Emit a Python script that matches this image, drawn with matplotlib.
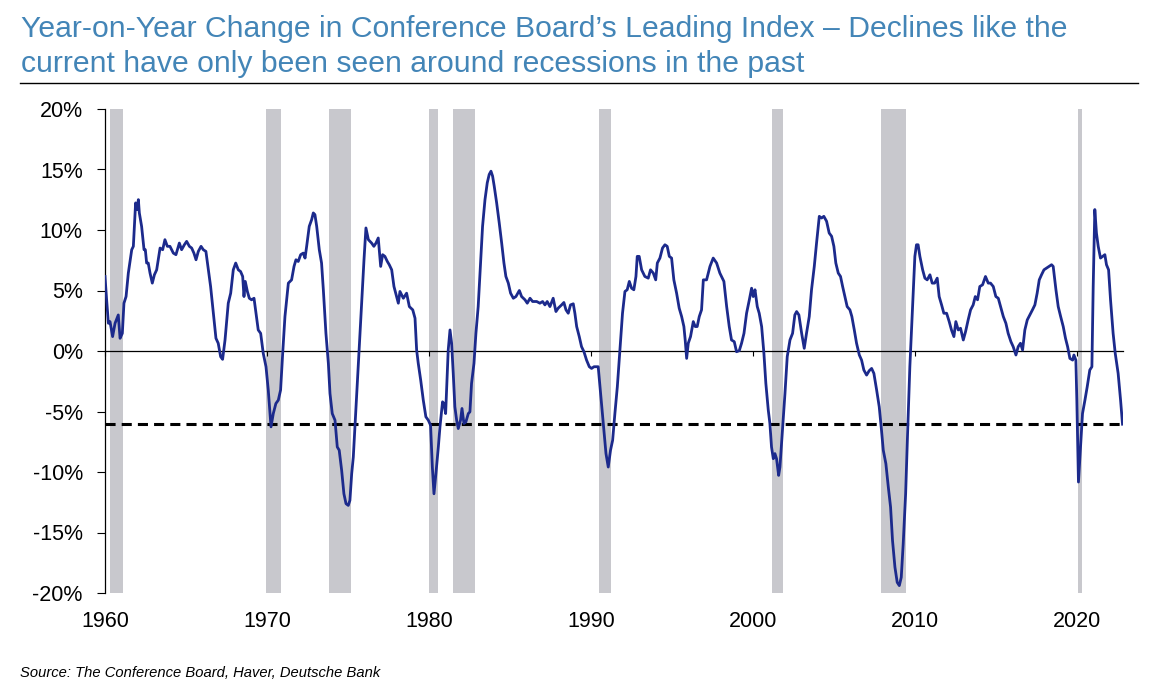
import numpy as np
import matplotlib
matplotlib.use("Agg")
import matplotlib.pyplot as plt
from matplotlib.lines import Line2D

plt.rcParams['font.family'] = ['Liberation Sans', 'DejaVu Sans']

# Conference Board LEI, year-on-year % change
lei_year = [
    1960.00, 1960.10, 1960.21, 1960.31, 1960.47, 1960.62, 1960.82, 1960.93, 1961.07, 1961.17,
    1961.30, 1961.44, 1961.65, 1961.75, 1961.89, 1961.98, 1962.06, 1962.12, 1962.26, 1962.41,
    1962.49, 1962.57, 1962.67, 1962.78, 1962.92, 1963.05, 1963.19, 1963.29, 1963.40, 1963.56,
    1963.70, 1963.85, 1964.01, 1964.22, 1964.38, 1964.59, 1964.73, 1964.90, 1965.04, 1965.21,
    1965.35, 1965.49, 1965.62, 1965.76, 1965.93, 1966.07, 1966.23, 1966.38, 1966.52, 1966.69,
    1966.85, 1966.99, 1967.14, 1967.26, 1967.41, 1967.61, 1967.76, 1967.92, 1968.07, 1968.23,
    1968.37, 1968.50, 1968.58, 1968.66, 1968.79, 1968.91, 1969.05, 1969.20, 1969.32, 1969.46,
    1969.61, 1969.77, 1969.94, 1970.08, 1970.25, 1970.39, 1970.55, 1970.70, 1970.84, 1970.97,
    1971.11, 1971.32, 1971.52, 1971.67, 1971.79, 1971.93, 1972.08, 1972.24, 1972.35, 1972.45,
    1972.61, 1972.76, 1972.86, 1972.96, 1973.07, 1973.23, 1973.37, 1973.48, 1973.64, 1973.79,
    1973.89, 1974.03, 1974.20, 1974.34, 1974.46, 1974.61, 1974.75, 1974.88, 1975.02, 1975.12,
    1975.23, 1975.33, 1975.43, 1975.54, 1975.68, 1975.84, 1975.99, 1976.11, 1976.26, 1976.46,
    1976.60, 1976.73, 1976.87, 1977.02, 1977.14, 1977.28, 1977.43, 1977.55, 1977.70, 1977.84,
    1978.00, 1978.11,
    1978.21, 1978.42, 1978.62, 1978.79, 1979.00, 1979.14, 1979.24, 1979.34, 1979.49, 1979.65,
    1979.81, 1979.96, 1980.10, 1980.21, 1980.31, 1980.43, 1980.58, 1980.68, 1980.84, 1980.93,
    1981.03, 1981.09, 1981.19, 1981.30, 1981.40, 1981.50, 1981.60, 1981.71, 1981.81, 1981.95,
    1982.04, 1982.16, 1982.28, 1982.43, 1982.53, 1982.63, 1982.78, 1982.90, 1983.04, 1983.15,
    1983.31, 1983.46, 1983.60, 1983.72, 1983.83, 1983.93, 1984.03, 1984.18, 1984.34, 1984.49,
    1984.63, 1984.75, 1984.90, 1985.04, 1985.21, 1985.37, 1985.58, 1985.72, 1985.93, 1986.07,
    1986.24, 1986.40, 1986.65, 1986.85, 1987.02, 1987.16, 1987.30, 1987.47, 1987.67, 1987.84,
    1987.98, 1988.19, 1988.33, 1988.46, 1988.60, 1988.74, 1988.91, 1989.01, 1989.12, 1989.28,
    1989.42, 1989.57, 1989.73, 1989.90, 1990.04, 1990.19, 1990.35, 1990.45, 1990.56, 1990.70,
    1990.82, 1990.93, 1991.07, 1991.21, 1991.34, 1991.48, 1991.63, 1991.79, 1991.95, 1992.10,
    1992.24, 1992.37, 1992.51, 1992.65, 1992.78, 1992.86, 1992.98, 1993.13, 1993.33, 1993.54,
    1993.68, 1993.85, 1994.00, 1994.10, 1994.26, 1994.42, 1994.57, 1994.71, 1994.84, 1994.98,
    1995.12, 1995.29, 1995.45, 1995.60, 1995.74, 1995.82, 1995.91, 1996.01, 1996.15, 1996.32,
    1996.44, 1996.56, 1996.69, 1996.83, 1996.94,
    1997.14, 1997.35, 1997.55, 1997.76, 1997.96, 1998.21, 1998.38, 1998.54, 1998.68, 1998.85,
    1998.99, 1999.16, 1999.30, 1999.45, 1999.61, 1999.78, 1999.92, 2000.02, 2000.13, 2000.27,
    2000.39, 2000.54, 2000.68, 2000.80, 2000.95, 2001.05, 2001.15, 2001.26, 2001.36, 2001.46,
    2001.59, 2001.67, 2001.77, 2001.87, 2001.98, 2002.12, 2002.29, 2002.45, 2002.59, 2002.70,
    2002.84, 2003.01, 2003.17, 2003.31, 2003.48, 2003.62, 2003.79, 2003.93, 2004.10, 2004.24,
    2004.38, 2004.55, 2004.71, 2004.86, 2005.00, 2005.12, 2005.27, 2005.41, 2005.54, 2005.68,
    2005.82, 2005.99, 2006.11, 2006.26, 2006.40, 2006.57, 2006.71, 2006.85, 2007.02, 2007.18,
    2007.33, 2007.47, 2007.64, 2007.80, 2007.94, 2008.05, 2008.21, 2008.36, 2008.50, 2008.62,
    2008.77, 2008.91, 2009.04, 2009.16, 2009.28, 2009.43, 2009.55, 2009.69, 2009.86, 2010.00,
    2010.10, 2010.20, 2010.31, 2010.48, 2010.62, 2010.76, 2010.93, 2011.07, 2011.22, 2011.38,
    2011.50, 2011.65, 2011.79, 2011.96, 2012.12, 2012.26, 2012.41, 2012.53, 2012.68, 2012.82,
    2012.99, 2013.13, 2013.29, 2013.44, 2013.60, 2013.73, 2013.87, 2014.01, 2014.18, 2014.36,
    2014.53, 2014.67, 2014.84, 2015.00, 2015.15, 2015.29, 2015.46, 2015.62, 2015.76, 2015.93,
    2016.07, 2016.24, 2016.38, 2016.52, 2016.65, 2016.79, 2016.94, 2017.10, 2017.26, 2017.41,
    2017.55, 2017.68, 2017.82, 2017.97, 2018.13, 2018.29, 2018.44, 2018.54, 2018.71, 2018.85,
    2019.00, 2019.16, 2019.30, 2019.43, 2019.57, 2019.74, 2019.82, 2019.94, 2020.00, 2020.10,
    2020.23, 2020.35, 2020.50, 2020.64, 2020.80, 2020.93, 2021.01, 2021.11, 2021.21, 2021.32,
    2021.46, 2021.59, 2021.73, 2021.83, 2021.96, 2022.08, 2022.24, 2022.37, 2022.55, 2022.70,
    2022.82,
]
lei_yoy = [
    6.16, 4.23, 2.29, 2.43, 1.19, 2.29, 2.98, 1.05, 1.46, 3.95,
    4.50, 6.44, 8.37, 8.65, 12.24, 11.69, 12.51, 11.41, 10.30, 8.37,
    8.37, 7.27, 7.27, 6.44, 5.61, 6.30, 6.71, 7.54, 8.51, 8.37,
    9.20, 8.65, 8.65, 8.09, 7.96, 8.92, 8.37, 8.78, 9.06, 8.65,
    8.51, 8.09, 7.54, 8.23, 8.65, 8.37, 8.23, 6.71, 5.33, 3.12,
    1.05, 0.64, -0.47, -0.69, 0.91, 3.95, 4.78, 6.71, 7.27, 6.71,
    6.57, 6.16, 4.50, 5.75, 4.92, 4.36, 4.23, 4.36, 3.12, 1.74,
    1.46, -0.19, -1.30, -3.23, -6.27, -5.17, -4.34, -4.06, -3.23, -0.19,
    2.85, 5.61, 5.88, 6.99, 7.54, 7.40, 7.96, 8.09, 7.68, 8.65,
    10.30, 10.86, 11.41, 11.27, 10.30, 8.37, 7.27, 5.06, 1.46, -1.02,
    -3.51, -5.17, -5.72, -7.93, -8.20, -9.86, -11.80, -12.62, -12.76, -12.35,
    -10.14, -8.76, -6.27, -3.51, -0.19, 3.95, 7.54, 10.17, 9.20, 8.92,
    8.65, 8.92, 9.34, 6.99, 7.96, 7.82, 7.40, 7.13, 6.71, 5.33,
    4.50, 3.95,
    4.92, 4.36, 4.78, 3.67, 3.40, 2.71, 0.08, -1.02, -2.40, -4.06,
    -5.44, -5.72, -6.13, -9.59, -11.80, -10.14, -7.93, -6.27, -4.20, -4.34,
    -5.17, -3.23, 0.08, 1.74, 0.64, -1.85, -4.61, -5.72, -6.41, -5.72,
    -4.75, -5.99, -5.86, -5.17, -5.03, -2.68, -1.02, 1.46, 3.67, 6.44,
    10.30, 12.51, 13.90, 14.59, 14.86, 14.45, 13.62, 12.24, 10.58, 8.92,
    7.27, 6.16, 5.61, 4.78, 4.36, 4.50, 5.00, 4.50, 4.23, 3.95,
    4.36, 4.09, 4.09, 3.95, 4.09, 3.81, 4.09, 3.67, 4.36, 3.26,
    3.54, 3.81, 4.01, 3.40, 3.12, 3.81, 3.90, 3.12, 2.02, 1.19,
    0.36, -0.06, -0.75, -1.30, -1.44, -1.30, -1.30, -1.30, -2.96, -5.17,
    -6.82, -8.48, -9.59, -8.20, -7.38, -5.17, -2.96, 0.08, 3.12, 4.92,
    5.06, 5.75, 5.19, 5.06, 6.16, 7.82, 7.82, 6.71, 6.16, 6.02,
    6.71, 6.44, 5.88, 7.27, 7.68, 8.51, 8.78, 8.65, 7.82, 7.68,
    5.88, 4.78, 3.54, 2.85, 2.02, 0.91, -0.61, 0.64, 1.19, 2.43,
    2.02, 2.02, 2.85, 3.40, 5.88,
    5.88, 6.99, 7.68, 7.27, 6.44, 5.75, 3.67, 2.02, 0.91, 0.77,
    -0.06, 0.03, 0.64, 1.46, 3.12, 4.23, 5.19, 4.50, 5.06, 3.67,
    3.12, 2.02, -0.19, -2.68, -4.89, -5.99, -7.93, -8.90, -8.48, -8.90,
    -10.28, -9.59, -7.65, -5.72, -3.51, -0.47, 0.91, 1.46, 2.98, 3.26,
    2.98, 1.46, 0.22, 1.46, 2.85, 5.06, 6.99, 8.92, 11.13, 10.99,
    11.13, 10.72, 9.75, 9.48, 8.65, 7.27, 6.44, 6.16, 5.33, 4.50,
    3.67, 3.40, 2.85, 1.74, 0.64, -0.33, -0.75, -1.57, -1.99, -1.63,
    -1.44, -1.85, -3.23, -4.61, -6.55, -8.20, -9.31, -11.24, -12.90, -15.66,
    -17.87, -19.12, -19.39, -18.70, -15.94, -11.80, -6.82, -1.30, 3.67, 7.82,
    8.78, 8.78, 7.82, 6.71, 6.02, 5.88, 6.30, 5.61, 5.61, 6.02,
    4.50, 3.81, 3.12, 3.12, 2.43, 1.74, 1.19, 2.43, 1.74, 1.88,
    0.91, 1.60, 2.57, 3.40, 3.81, 4.50, 4.23, 5.33, 5.47, 6.16,
    5.61, 5.61, 5.33, 4.50, 4.36, 3.67, 2.85, 2.29, 1.46, 0.77,
    0.36, -0.33, 0.36, 0.64, 0.08, 1.74, 2.57, 2.98, 3.40, 3.81,
    4.78, 5.88, 6.30, 6.71, 6.85, 6.99, 7.13, 6.99, 5.06, 3.67,
    2.85, 2.02, 1.05, 0.36, -0.61, -0.75, -0.33, -0.75, -4.06, -10.83,
    -7.93, -5.17, -4.06, -2.96, -1.57, -1.30, 5.33, 11.69, 9.75, 8.65,
    7.68, 7.82, 7.96, 7.13, 6.71, 4.23, 1.46, -0.19, -1.85, -4.06,
    -6.05,
]

# NBER recessions (start, end) in decimal years
rec_start = [1960.29, 1969.92, 1973.83, 1980.00, 1981.50, 1990.50, 2001.17, 2007.92, 2020.08]
rec_end = [1961.12, 1970.87, 1975.21, 1980.54, 1982.87, 1991.21, 2001.87, 2009.46, 2020.29]

threshold = -6
x_ticks = [1960, 1970, 1980, 1990, 2000, 2010, 2020]
y_ticks = [-20, -15, -10, -5, 0, 5, 10, 15, 20]

title1 = "Year-on-Year Change in Conference Board\u2019s Leading Index \u2013 Declines like the"
title2 = "current have only been seen around recessions in the past"
source = "Source: The Conference Board, Haver, Deutsche Bank"

W, H = 1154, 686
fig = plt.figure(figsize=(W / 100, H / 100), dpi=100)
ax = fig.add_axes([105 / W, 1 - 593 / H, (1123 - 105) / W, (593 - 109) / H])

for s, e in zip(rec_start, rec_end):
    ax.axvspan(s, e, color='#c8c8cd', lw=0, zorder=1)

ax.plot(lei_year, lei_yoy, color='#1c2a8c', lw=2.0, zorder=4)
ax.axhline(threshold, color='black', lw=2.2, ls=(0, (3.3, 2.0)), zorder=3)

ax.set_xlim(1960, 2022.85)
ax.set_ylim(-20, 20)

for side in ['top', 'right']:
    ax.spines[side].set_visible(False)
ax.spines['left'].set_linewidth(0.9)
ax.spines['bottom'].set_position(('data', 0))
ax.spines['bottom'].set_linewidth(0.9)
ax.spines['bottom'].set_zorder(3)

ax.set_xticks(x_ticks)
ax.tick_params(axis='x', direction='out', length=3.5, width=0.8, labelbottom=False)
ax.set_yticks(y_ticks)
ax.set_yticklabels([f"{v}%" for v in y_ticks])
ax.tick_params(axis='y', direction='out', length=6, width=0.8, pad=10, labelsize=15.5)

sec = ax.secondary_xaxis('bottom')
sec.set_xticks(x_ticks)
sec.spines['bottom'].set_visible(False)
sec.tick_params(length=0, pad=13, labelsize=15.5)

fig.text(21 / W, 1 - 37 / H, title1, fontsize=21.7, color='#4385b7', va='baseline')
fig.text(21 / W, 1 - 72 / H, title2, fontsize=21.7, color='#4385b7', va='baseline')
fig.add_artist(Line2D([20 / W, 1138 / W], [1 - 83 / H, 1 - 83 / H],
                      transform=fig.transFigure, color='black', lw=1.0))
fig.text(20 / W, 1 - 677 / H, source, fontsize=10.6, style='italic', va='baseline')

fig.savefig('out.png', dpi=100)
